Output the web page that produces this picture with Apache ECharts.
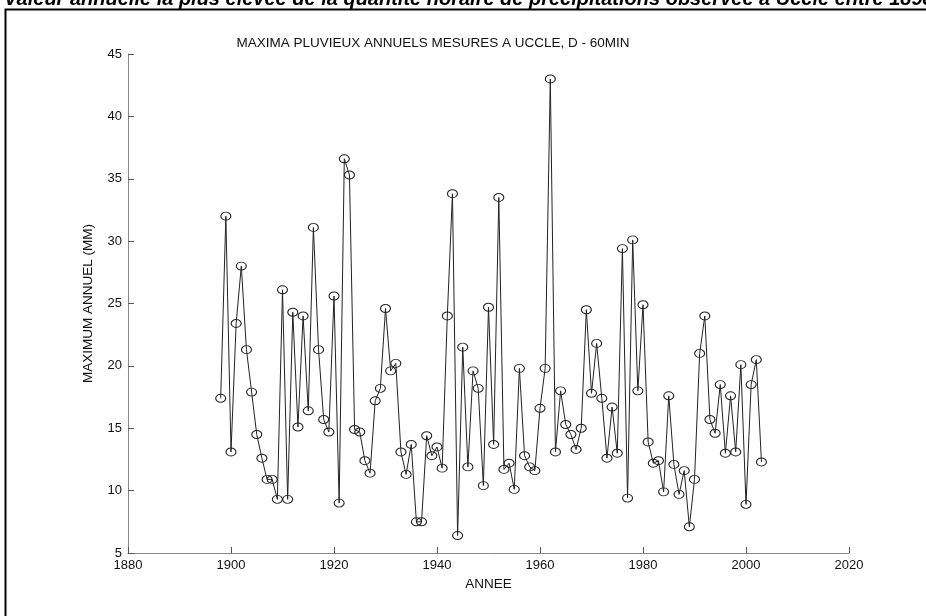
<!DOCTYPE html>
<html>
<head>
<meta charset="utf-8">
<script src="https://cdn.jsdelivr.net/npm/echarts@6/dist/echarts.min.js"></script>
<style>
html,body{margin:0;padding:0;background:#fff;}
#chart{width:926px;height:616px;}
</style>
</head>
<body>
<div id="chart"></div>
<script>
var startYear = 1898;
var maxima = [
  17.4, 32.0, 13.1, 23.4, 28.0, 21.3, 17.9, 14.5, 12.6, 10.9,
  10.9, 9.3, 26.1, 9.3, 24.3, 15.1, 24.0, 16.4, 31.1, 21.3,
  15.7, 14.7, 25.6, 9.0, 36.6, 35.3, 14.9, 14.7, 12.4, 11.4,
  17.2, 18.2, 24.6, 19.6, 20.2, 13.1, 11.3, 13.7, 7.5, 7.5,
  14.4, 12.8, 13.5, 11.8, 24.0, 33.8, 6.4, 21.5, 11.9, 19.6,
  18.2, 10.4, 24.7, 13.7, 33.5, 11.7, 12.2, 10.1, 19.8, 12.8,
  11.9, 11.6, 16.6, 19.8, 43.0, 13.1, 18.0, 15.3, 14.5, 13.3,
  15.0, 24.5, 17.8, 21.8, 17.4, 12.6, 16.7, 13.0, 29.4, 9.4,
  30.1, 18.0, 24.9, 13.9, 12.2, 12.4, 9.9, 17.6, 12.1, 9.7,
  11.6, 7.1, 10.9, 21.0, 24.0, 15.7, 14.6, 18.5, 13.0, 17.6,
  13.1, 20.1, 8.9, 18.5, 20.5, 12.3
];
var xTicks = { min: 1880, max: 2020, step: 20 };
var yTicks = { min: 5, max: 45, step: 5 };
var pageTitle = "Valeur annuelle la plus élevée de la quantité horaire de précipitations observée à Uccle entre 1898 et 2003";
var chartTitle = "MAXIMA PLUVIEUX ANNUELS MESURES A UCCLE, D - 60MIN";
var xName = "ANNEE";
var yName = "MAXIMUM ANNUEL (MM)";

var points = maxima.map(function (v, i) { return [startYear + i, v]; });

var chart = echarts.init(document.getElementById('chart'), null, { renderer: 'canvas' });
var axisFont = 'Liberation Sans, Arial, sans-serif';
chart.setOption({
  animation: false,
  backgroundColor: '#ffffff',
  title: {
    text: chartTitle,
    left: 428,
    textAlign: 'center',
    top: 31,
    textStyle: { fontFamily: axisFont, fontSize: 13.5, fontWeight: 'normal', color: '#111' }
  },
  graphic: [
    {
      type: 'rect',
      shape: { x: 5.5, y: 9.5, width: 930, height: 640 },
      style: { fill: 'none', stroke: '#000', lineWidth: 2 },
      silent: true
    },
    {
      type: 'text',
      x: 4,
      y: 9,
      style: {
        text: pageTitle,
        font: 'italic bold 20px Liberation Sans, Arial, sans-serif',
        fill: '#000',
        verticalAlign: 'bottom'
      },
      silent: true
    }
  ],
  grid: { left: 128, right: 77, top: 54, bottom: 63, containLabel: false },
  xAxis: {
    type: 'value',
    min: xTicks.min,
    max: xTicks.max,
    interval: xTicks.step,
    name: xName,
    nameLocation: 'middle',
    nameGap: 24,
    nameTextStyle: { fontFamily: axisFont, fontSize: 13.5, color: '#111' },
    axisLine: { show: true, lineStyle: { color: '#888', width: 1 } },
    axisTick: { show: true, inside: true, length: 6, lineStyle: { color: '#555' } },
    axisLabel: { fontFamily: axisFont, fontSize: 13, color: '#111', margin: 6,
      formatter: function (v) { return String(v); } },
    splitLine: { show: false }
  },
  yAxis: {
    type: 'value',
    min: yTicks.min,
    max: yTicks.max,
    interval: yTicks.step,
    name: yName,
    nameLocation: 'middle',
    nameGap: 33,
    nameTextStyle: { fontFamily: axisFont, fontSize: 13.5, color: '#111' },
    axisLine: { show: true, lineStyle: { color: '#888', width: 1 } },
    axisTick: { show: true, inside: true, length: 6, lineStyle: { color: '#555' } },
    axisLabel: { fontFamily: axisFont, fontSize: 13, color: '#111', margin: 6 },
    splitLine: { show: false }
  },
  series: [{
    type: 'line',
    data: points,
    symbol: 'path://M0,4a5,4 0 1,0 10,0a5,4 0 1,0 -10,0z',
    symbolSize: [10, 8],
    showAllSymbol: true,
    lineStyle: { color: '#222', width: 1 },
    itemStyle: { color: 'rgba(0,0,0,0)', borderColor: '#222', borderWidth: 1 },
    emphasis: { disabled: true }
  }]
});
</script>
</body>
</html>
